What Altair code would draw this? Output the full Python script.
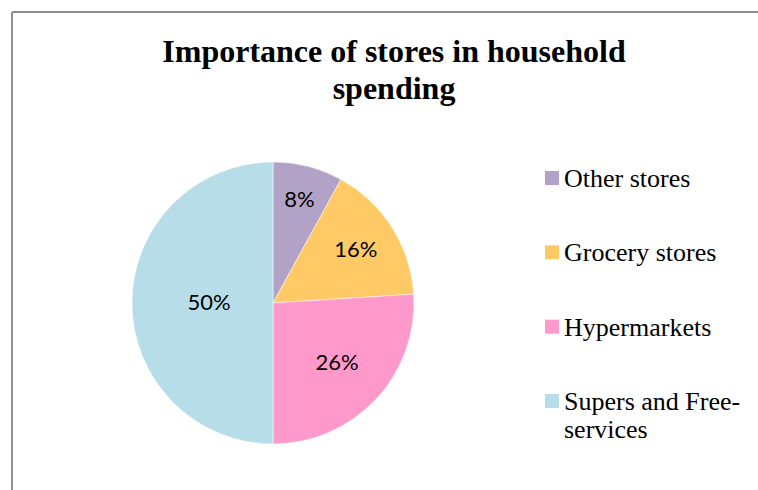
import altair as alt
import pandas as pd

# ---- data ----
categories = ["Other stores", "Grocery stores", "Hypermarkets", "Supers and Free-services"]
legend_labels = ["Other stores", "Grocery stores", "Hypermarkets", "Supers and Free-\nservices"]
shares = [8, 16, 26, 50]
colors = ["#B3A2C7", "#FFCA66", "#FF99CC", "#B7DEE8"]
title_lines = ["Importance of stores in household", "spending"]

df = pd.DataFrame({
    "store": categories,
    "legend": legend_labels,
    "share": shares,
    "order": list(range(len(categories))),
})
df["label"] = df["share"].astype(str) + "%"

W, H = 746, 478
CX, CY, R = 261, 291, 141

color = alt.Color("store:N", scale=alt.Scale(domain=categories, range=colors), legend=None)
theta = alt.Theta("share:Q", stack=True)
order = alt.Order("order:Q")

base = alt.Chart(df)

pie = base.mark_arc(radius=R, stroke="white", strokeWidth=0.5).encode(
    theta=theta, order=order, color=color,
    x=alt.value(CX), y=alt.value(CY),
)

# best-fit style label placement: bigger slices get labels nearer the centre
labels = base.transform_window(
    cum="sum(share)", sort=[alt.SortField("order")], frame=[None, 0]
).transform_joinaggregate(
    total="sum(share)"
).transform_calculate(
    mid="2 * PI * (datum.cum - datum.share / 2) / datum.total",
    lr="114 - datum.share",
).mark_text(font="Lato", fontSize=22, color="black").encode(
    theta=alt.Theta("mid:Q", scale=None, stack=False),
    radius=alt.Radius("lr:Q", scale=None),
    text="label:N",
    x=alt.value(CX), y=alt.value(CY),
)

ly = alt.Y("store:N", scale=alt.Scale(domain=categories, range=[166, 389], padding=0), axis=None)
squares = base.mark_square(size=196, opacity=1).encode(
    x=alt.value(540), y=ly, color=color,
)
ltext = base.mark_text(
    align="left", baseline="alphabetic", dy=9, font="Liberation Serif",
    fontSize=26, lineBreak="\n", lineHeight=28, color="black",
).encode(x=alt.value(552), y=ly, text="legend:N")

frame = alt.Chart(alt.Data(values=[{"a": 1}])).mark_rule(color="#8f8f8f", strokeWidth=2)
left_edge = frame.encode(x=alt.value(0), y=alt.value(0), y2=alt.value(H))
top_edge = frame.encode(x=alt.value(0), x2=alt.value(W), y=alt.value(0))

chart = alt.layer(left_edge, top_edge, pie, labels, squares, ltext).properties(
    width=W, height=H,
    title=alt.TitleParams(
        title_lines, font="Liberation Serif", fontSize=32, fontWeight="bold",
        color="black", anchor="middle", offset=-95, lineHeight=37, dx=9,
    ),
    padding={"left": 12, "top": 12, "right": 0, "bottom": 0},
    autosize=alt.AutoSizeParams(type="none"),
).configure_view(stroke=None)

chart.save("out.html", embed_options={"renderer": "svg", "actions": False})
